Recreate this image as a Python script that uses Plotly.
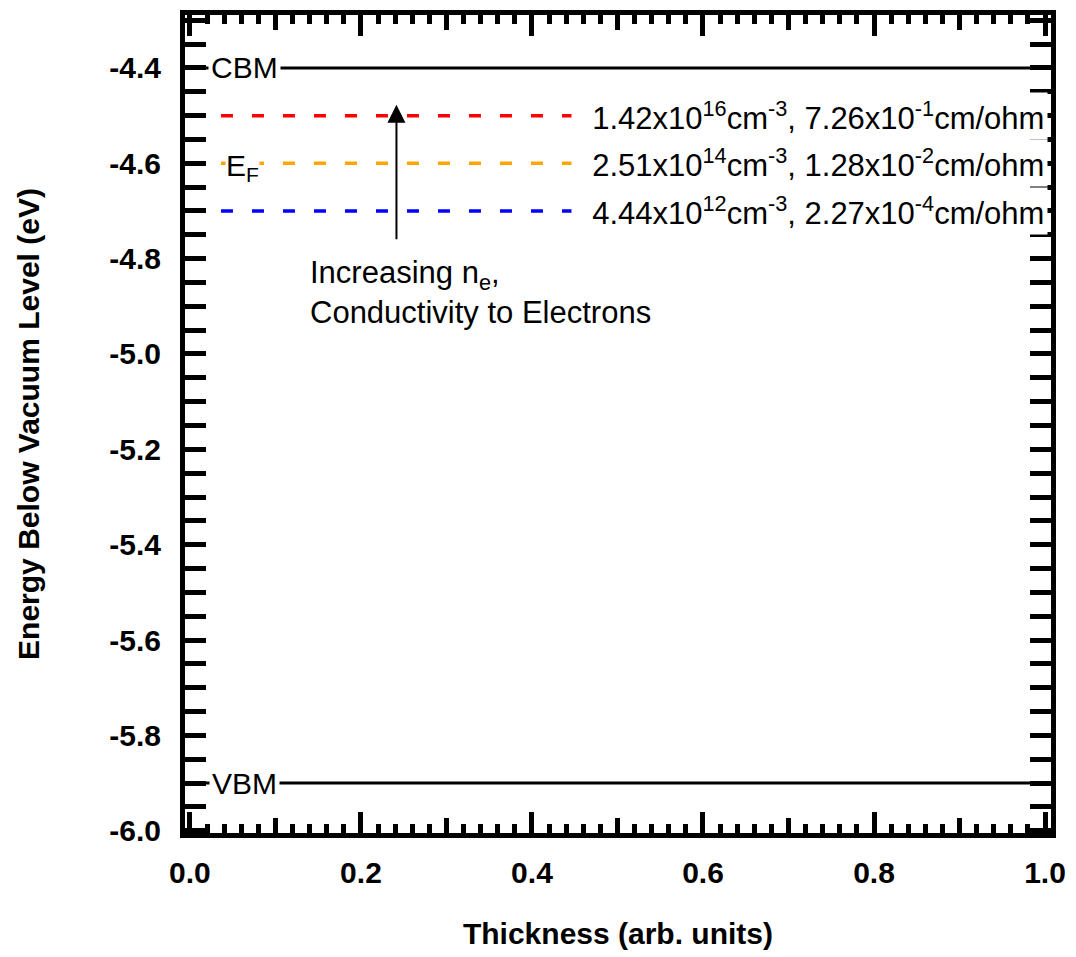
import plotly.graph_objects as go

# ---- data ----
x_span = [0.0, 1.0]
band_names = ["CBM", "VBM"]
band_energies = [-4.4, -5.9]
fermi_energies = [-4.5, -4.6, -4.7]
fermi_colors = ["#ff0000", "#ffa500", "#0000ff"]
fermi_labels = [
    "1.42x10<sup>16</sup>cm<sup>-3</sup>, 7.26x10<sup>-1</sup>cm/ohm",
    "2.51x10<sup>14</sup>cm<sup>-3</sup>, 1.28x10<sup>-2</sup>cm/ohm",
    "4.44x10<sup>12</sup>cm<sup>-3</sup>, 2.27x10<sup>-4</sup>cm/ohm",
]
x_tickvals = [0.0, 0.2, 0.4, 0.6, 0.8, 1.0]
x_ticktext = ["0.0", "0.2", "0.4", "0.6", "0.8", "1.0"]
x_midticks = [0.1, 0.3, 0.5, 0.7, 0.9]
y_tickvals = [-4.4, -4.6, -4.8, -5.0, -5.2, -5.4, -5.6, -5.8, -6.0]
y_ticktext = ["-4.4", "-4.6", "-4.8", "-5.0", "-5.2", "-5.4", "-5.6", "-5.8", "-6.0"]
arrow_x = 0.2415
arrow_start = -4.7625
arrow_end = -4.477

x_range = [-0.0058, 1.0070]
y_range = [-6.0048, -4.2889]

FONT = "Liberation Sans, Arial, sans-serif"

fig = go.Figure()

for name, e in zip(band_names, band_energies):
    fig.add_trace(go.Scatter(x=x_span, y=[e, e], mode="lines", xaxis="x2",
                             line=dict(color="black", width=3), showlegend=False,
                             hoverinfo="skip"))

for e, c in zip(fermi_energies, fermi_colors):
    fig.add_trace(go.Scatter(x=x_span, y=[e, e], mode="lines",
                             line=dict(color=c, width=3.5, dash="12px,19px"),
                             showlegend=False, hoverinfo="skip"))

annotations = []
for name, e in zip(band_names, band_energies):
    annotations.append(dict(x=0.064, y=e, xref="x", yref="y", text=name,
                            showarrow=False, bgcolor="white", borderpad=2,
                            font=dict(family=FONT, size=30, color="black")))

annotations.append(dict(x=0.062, y=fermi_energies[1], xref="x", yref="y",
                        text="E<sub>F</sub>", showarrow=False, bgcolor="white",
                        borderpad=0, yshift=-4,
                        font=dict(family=FONT, size=30, color="black")))

for lab, e in zip(fermi_labels, fermi_energies):
    annotations.append(dict(x=1.0032, y=e, xref="x", yref="y", xanchor="right",
                            text="&nbsp;&nbsp;" + lab, showarrow=False,
                            bgcolor="white", borderpad=3,
                            font=dict(family=FONT, size=31, color="black")))

annotations.append(dict(x=arrow_x, y=arrow_end, ax=arrow_x, ay=arrow_start,
                        xref="x", yref="y", axref="x", ayref="y", text="",
                        showarrow=True, arrowhead=2, arrowsize=1.8,
                        arrowwidth=2, arrowcolor="black"))

annotations.append(dict(x=0.138, y=-4.872, xref="x", yref="y", xanchor="left",
                        yanchor="middle", align="left", showarrow=False,
                        text="Increasing n<sub>e</sub>,<br>Conductivity to Electrons",
                        font=dict(family=FONT, size=31, color="black")))

axis_common = dict(showline=True, linewidth=5, linecolor="black", mirror="allticks",
                   ticks="inside", tickwidth=4.5, tickcolor="black", showgrid=False,
                   zeroline=False)

fig.update_layout(
    width=1076, height=957,
    margin=dict(l=185, r=23, t=10, b=124),
    paper_bgcolor="white", plot_bgcolor="white",
    showlegend=False,
    xaxis=dict(range=x_range, tickvals=x_tickvals, ticktext=x_ticktext, ticklen=21,
               minor=dict(dtick=0.02, tick0=0, ticks="inside", ticklen=9, tickwidth=4.5,
                          tickcolor="black", showgrid=False),
               tickfont=dict(family=FONT, size=30, color="black", weight="bold"),
               ticklabelstandoff=9,
               title=dict(text="Thickness (arb. units)", standoff=36,
                          font=dict(family=FONT, size=30, color="black", weight="bold")),
               **axis_common),
    xaxis2=dict(range=x_range, overlaying="x", side="bottom", tickvals=x_midticks,
                ticks="inside", ticklen=15, tickwidth=4.5, tickcolor="black",
                mirror="allticks", showline=False, showticklabels=False,
                showgrid=False, zeroline=False),
    yaxis=dict(range=y_range, tickvals=y_tickvals, ticktext=y_ticktext, ticklen=21,
               minor=dict(dtick=0.05, tick0=-6.0, ticks="inside", ticklen=10, tickwidth=4.5,
                          tickcolor="black", showgrid=False),
               tickfont=dict(family=FONT, size=30, color="black", weight="bold"),
               ticklabelstandoff=13,
               title=dict(text="Energy Below Vacuum Level (eV)", standoff=62,
                          font=dict(family=FONT, size=30, color="black", weight="bold")),
               **axis_common),
    annotations=annotations,
)

fig.write_html("out.html")
